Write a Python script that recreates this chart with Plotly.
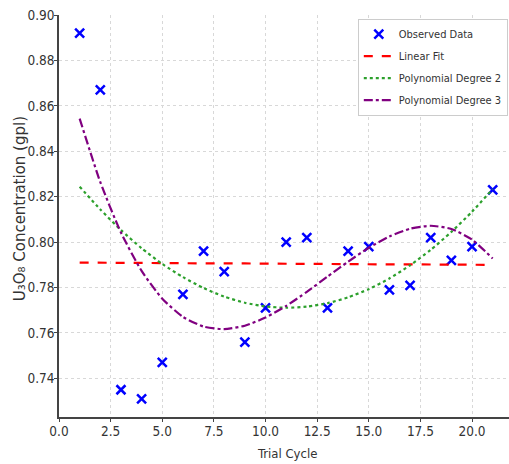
import plotly.graph_objects as go

# Data
trial_cycle = list(range(1, 22))
observed = [0.892, 0.867, 0.735, 0.731, 0.747, 0.777, 0.796, 0.787, 0.756, 0.771,
            0.800, 0.802, 0.771, 0.796, 0.798, 0.779, 0.781, 0.802, 0.792, 0.798, 0.823]
linear_fit = [0.7910, 0.7909, 0.7909, 0.7908, 0.7908, 0.7907, 0.7907, 0.7906, 0.7906, 0.7905,
              0.7905, 0.7904, 0.7904, 0.7903, 0.7903, 0.7902, 0.7902, 0.7901, 0.7901, 0.7900, 0.7900]
poly2_fit = [0.8244, 0.8144, 0.8053, 0.7973, 0.7904, 0.7846, 0.7798, 0.7760, 0.7733, 0.7717,
             0.7711, 0.7716, 0.7731, 0.7757, 0.7793, 0.7840, 0.7898, 0.7966, 0.8045, 0.8134, 0.8234]
poly3_fit = [0.8544, 0.8264, 0.8042, 0.7873, 0.7751, 0.7671, 0.7628, 0.7617, 0.7632, 0.7668,
             0.7719, 0.7781, 0.7848, 0.7914, 0.7975, 0.8025, 0.8059, 0.8072, 0.8058, 0.8011, 0.7928]

x_ticks = [0, 2.5, 5, 7.5, 10, 12.5, 15, 17.5, 20]
y_ticks = [0.74, 0.76, 0.78, 0.80, 0.82, 0.84, 0.86, 0.88, 0.90]

x_title = "Trial Cycle"
y_title = "U₃O₈ Concentration (gpl)"

NARROW = "DejaVu Sans Condensed, DejaVu Sans, sans-serif"

fig = go.Figure()
fig.add_trace(go.Scatter(
    x=trial_cycle, y=observed, mode="markers", name="Observed Data", legendgroup="a",
    marker=dict(symbol="x-thin", size=9, color="#0000ff",
                line=dict(color="#0000ff", width=2.5))))
fig.add_trace(go.Scatter(
    x=trial_cycle, y=linear_fit, mode="lines", name="Linear Fit", legendgroup="b",
    line=dict(color="#ff0000", width=2.2, dash="dash")))
fig.add_trace(go.Scatter(
    x=trial_cycle, y=poly2_fit, mode="lines", name="Polynomial Degree 2", legendgroup="c",
    line=dict(color="#2ca02c", width=2.2, dash="dot", shape="spline", smoothing=0.6)))
fig.add_trace(go.Scatter(
    x=trial_cycle, y=poly3_fit, mode="lines", name="Polynomial Degree 3", legendgroup="d",
    line=dict(color="#800080", width=2.2, dash="dashdot", shape="spline", smoothing=0.6)))

fig.update_layout(
    width=509, height=464,
    margin=dict(l=59, r=0, t=15, b=47),
    paper_bgcolor="white", plot_bgcolor="white",
    font=dict(family=NARROW, size=13.5, color="#333333"),
    showlegend=True,
    legend=dict(x=0.664, y=0.991, xanchor="left", yanchor="top",
                bgcolor="white", bordercolor="#cccccc", borderwidth=1,
                font=dict(family=NARROW, size=11, color="#333333"),
                itemwidth=30, tracegroupgap=3),
    annotations=[
        dict(text=x_title, xref="paper", yref="paper", x=0.506, y=-0.0903,
             xanchor="center", yanchor="middle", showarrow=False,
             font=dict(family=NARROW, size=13, color="#333333")),
        dict(text=y_title, xref="paper", yref="paper", x=-0.0867, y=0.519,
             xanchor="center", yanchor="middle", showarrow=False, textangle=-90,
             font=dict(family="DejaVu Sans, sans-serif", size=15, color="#333333")),
    ],
)
fig.update_xaxes(
    range=[0, 21.79], tickvals=x_ticks, tickformat=".1f", automargin=False,
    showline=True, linecolor="#444444", linewidth=1.5,
    ticks="outside", ticklen=3, tickcolor="#444444", ticklabelstandoff=-2,
    showgrid=True, gridcolor="#d8d8d8", griddash="dot", gridwidth=1,
    zeroline=False,
)
fig.update_yaxes(
    range=[0.723, 0.900], tickvals=y_ticks, tickformat=".2f", automargin=False,
    showline=True, linecolor="#444444", linewidth=1.5,
    ticks="outside", ticklen=3, tickcolor="#444444", ticklabelstandoff=-3,
    showgrid=True, gridcolor="#d8d8d8", griddash="dot", gridwidth=1,
    zeroline=False,
)

fig.write_html("out.html", config={"displayModeBar": False},
               post_script="document.body.style.margin='0px';")
